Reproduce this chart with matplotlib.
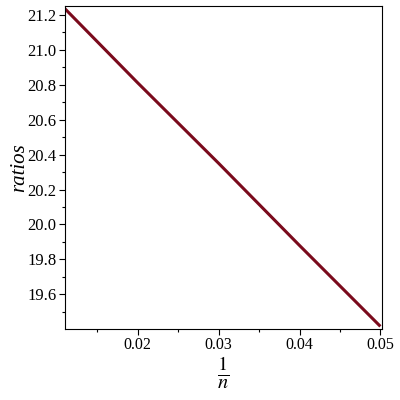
import numpy as np
import matplotlib.pyplot as plt
from matplotlib.ticker import MultipleLocator

# values
inv_n = [0.011, 0.02, 0.03, 0.04, 0.05]
ratios = [21.234, 20.81, 20.35, 19.88, 19.417]

plt.rcParams['font.family'] = ['Liberation Serif', 'DejaVu Serif']
plt.rcParams['mathtext.fontset'] = 'stix'

fig = plt.figure(figsize=(4, 4), dpi=100)
ax = fig.add_axes([0.1625, 0.1775, 0.7925, 0.8075])
ax.plot(inv_n, ratios, color='#7a0a1c', linewidth=2.2, solid_capstyle='butt')

ax.set_xlim(0.011, 0.0502)
ax.set_ylim(19.402, 21.25)
ax.xaxis.set_major_locator(MultipleLocator(0.01))
ax.xaxis.set_minor_locator(MultipleLocator(0.005))
ax.yaxis.set_major_locator(MultipleLocator(0.2))
ax.yaxis.set_minor_locator(MultipleLocator(0.1))
ax.tick_params(which='major', length=4, width=0.8, labelsize=12, pad=2)
ax.tick_params(axis='x', which='major', labelsize=11.5)
ax.tick_params(which='minor', length=2.5, width=0.8)
ax.xaxis.set_major_formatter(plt.FuncFormatter(lambda v, p: f'{v:.2f}'))
ax.yaxis.set_major_formatter(plt.FuncFormatter(lambda v, p: f'{v:.1f}'))

ax.set_xlabel(r'$\frac{1}{n}$', fontsize=21, labelpad=1)
ax.set_ylabel('ratios', fontsize=15, style='italic', labelpad=-1)

fig.savefig('out.png', dpi=100)
